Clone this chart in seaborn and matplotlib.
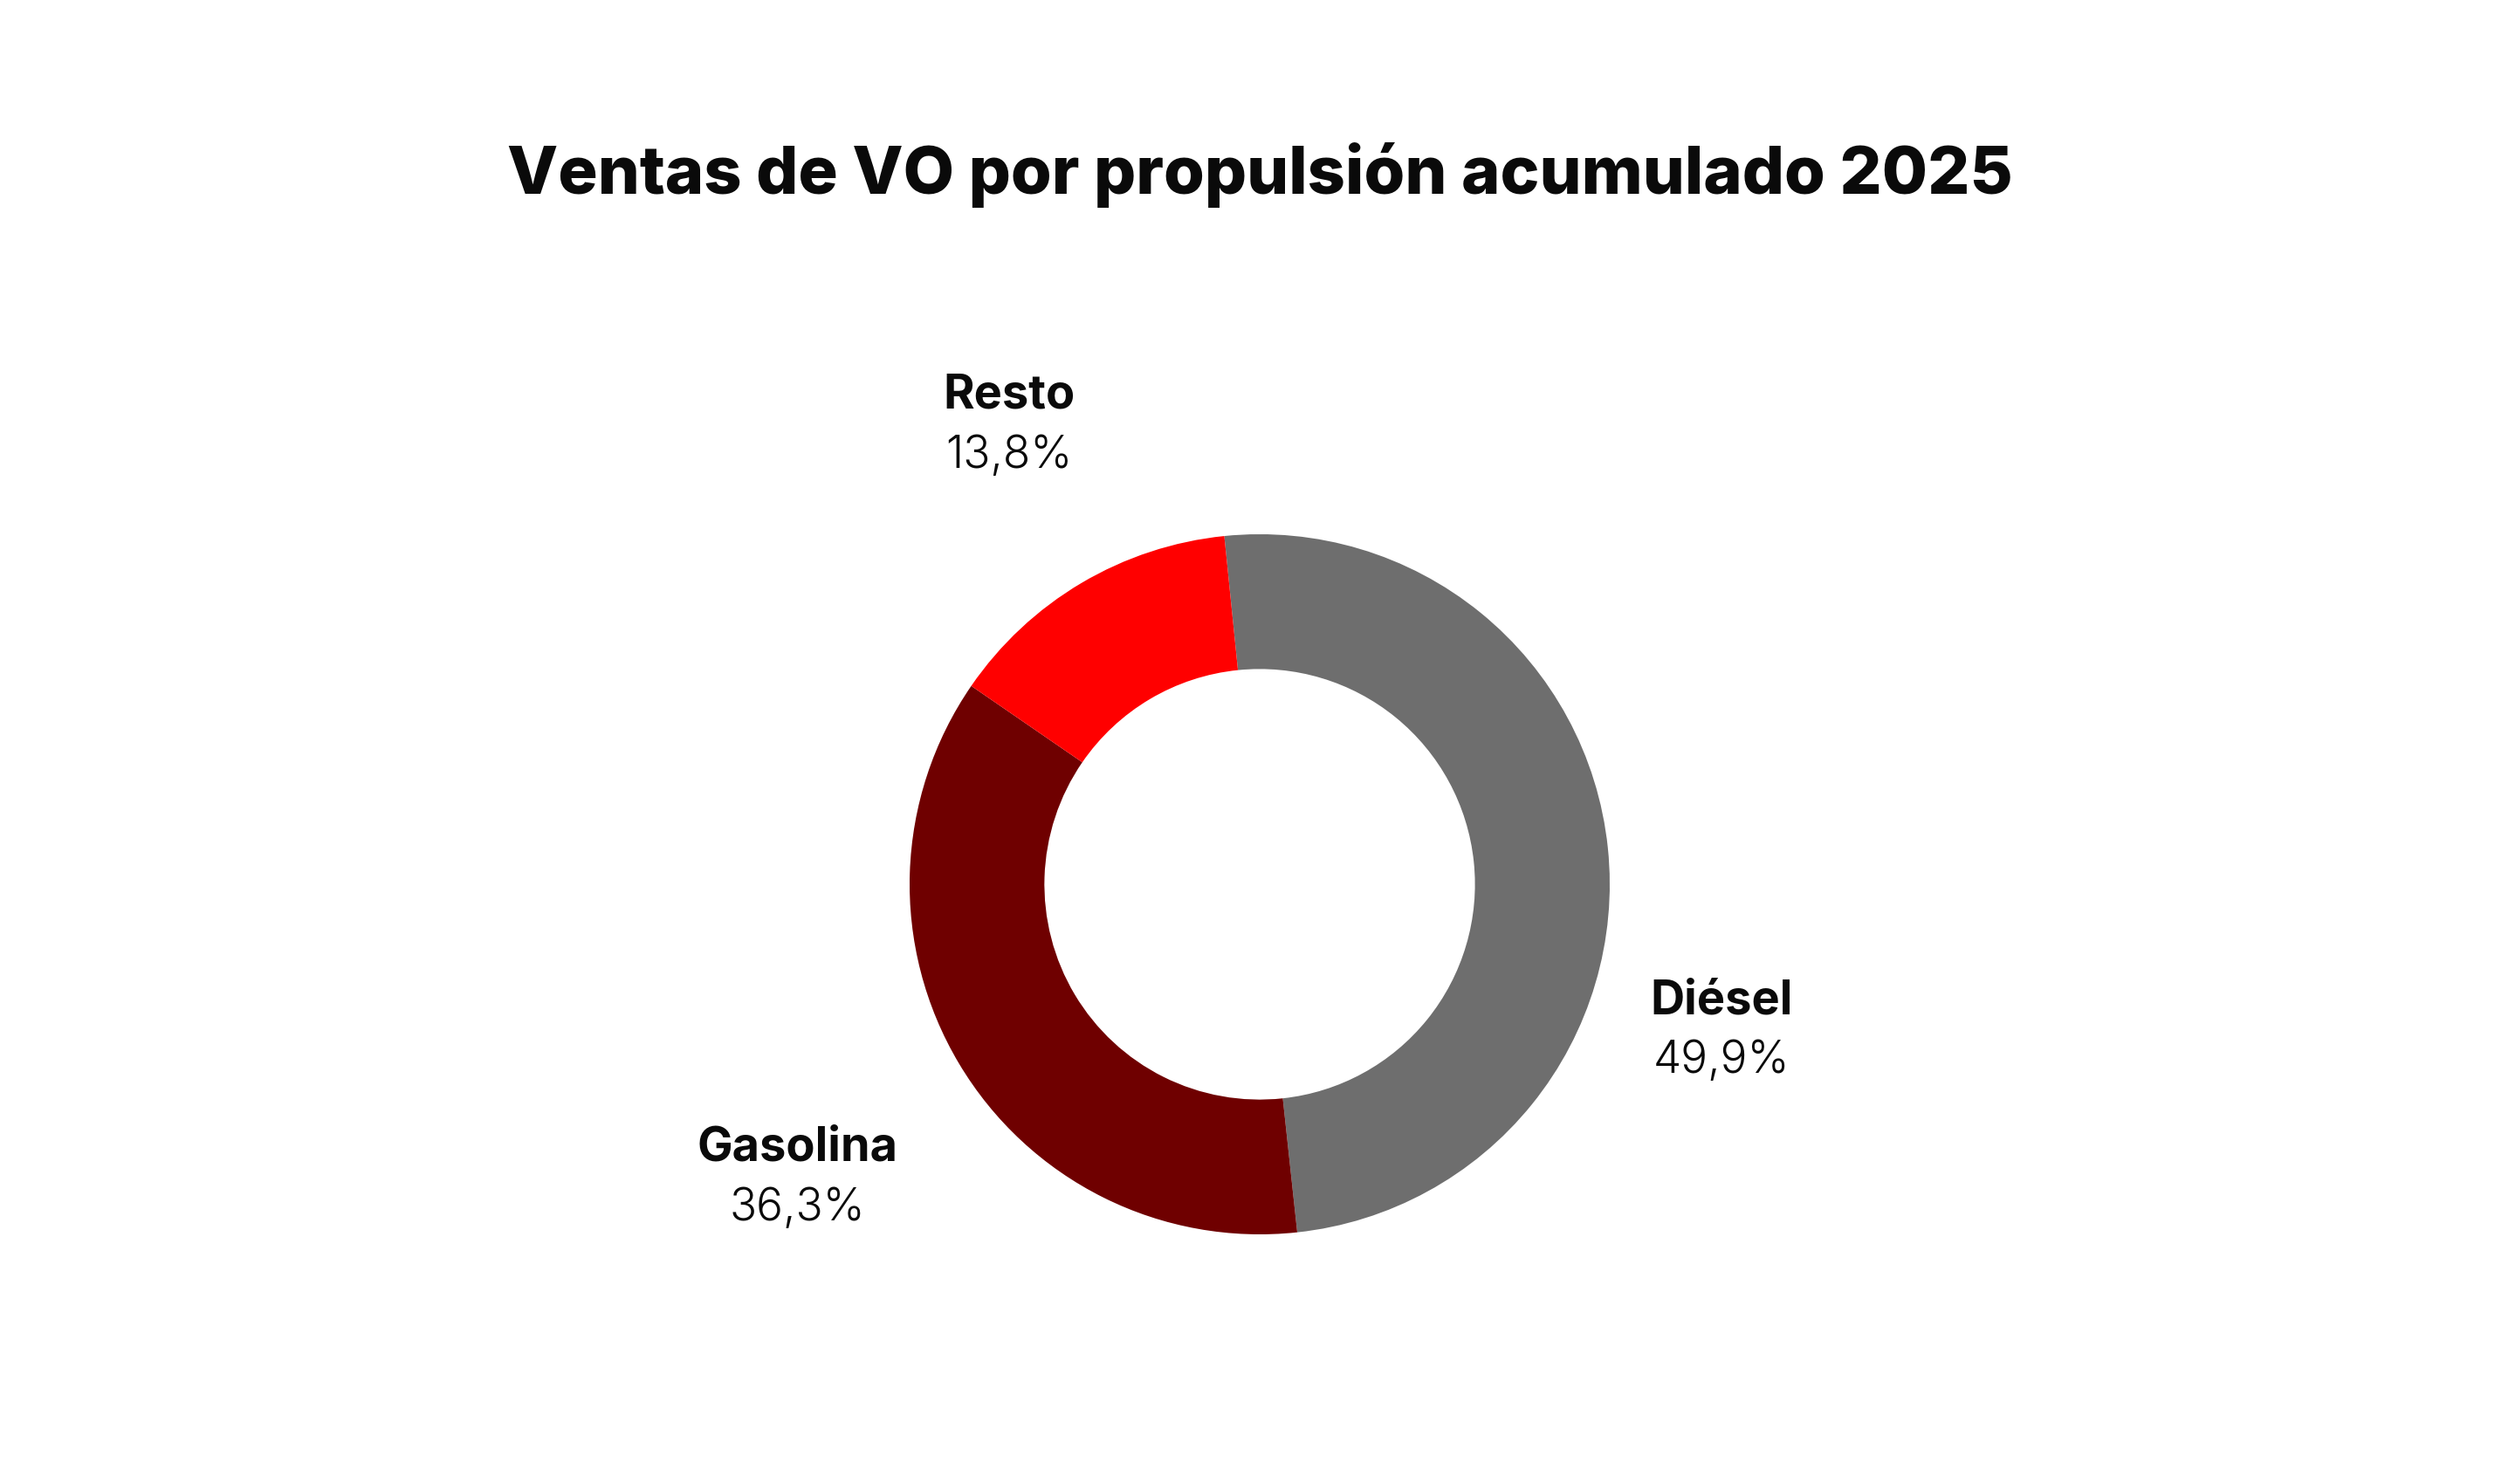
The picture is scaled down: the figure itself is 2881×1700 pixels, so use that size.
import matplotlib
matplotlib.use("Agg")
import matplotlib.pyplot as plt
import seaborn as sns

# --- DATA ---
categories = ["Diésel", "Gasolina", "Resto"]
shares = [49.9, 36.3, 13.8]
share_labels = ["49,9%", "36,3%", "13,8%"]
TITLE = "Ventas de VO por propulsión acumulado 2025"

# --- STYLE ---
colors = ["#6e6e6e", "#6f0000", "#ff0000"]
# label anchor positions (data units, donut radius = 1)
label_pos = [(1.32, -0.42), (-1.32, -0.84), (-0.715, 1.31)]

sns.set_theme(style="white")
plt.rcParams["font.family"] = ["Inter", "DejaVu Sans"]

W, H, DPI = 2881, 1700, 100
fig = plt.figure(figsize=(W / DPI, H / DPI), dpi=DPI, facecolor="white")
ax = fig.add_axes([0, 0, 1, 1])

cx, cy, R = 1443, 1700 - 1013, 401  # pixel centre and outer radius

ax.pie(shares, colors=colors, startangle=95.8, counterclock=False,
       radius=1, wedgeprops=dict(width=0.385, linewidth=0))

ax.set_xlim(-cx / R, (W - cx) / R)
ax.set_ylim(-cy / R, (H - cy) / R)
ax.set_aspect("auto")
ax.axis("off")

for (x, y), name, pct in zip(label_pos, categories, share_labels):
    ax.text(x, y + 0.086, name, ha="center", va="center", fontsize=39,
            fontweight=700, color="#0a0a0a")
    ax.text(x, y - 0.086, pct, ha="center", va="center", fontsize=37,
            fontweight=300, color="#0a0a0a")

fig.text(cx / W, 1 - 200 / H, TITLE, ha="center", va="center",
         fontsize=54.5, fontweight=800, color="#0a0a0a")

fig.savefig("out.png", dpi=DPI, facecolor="white")
